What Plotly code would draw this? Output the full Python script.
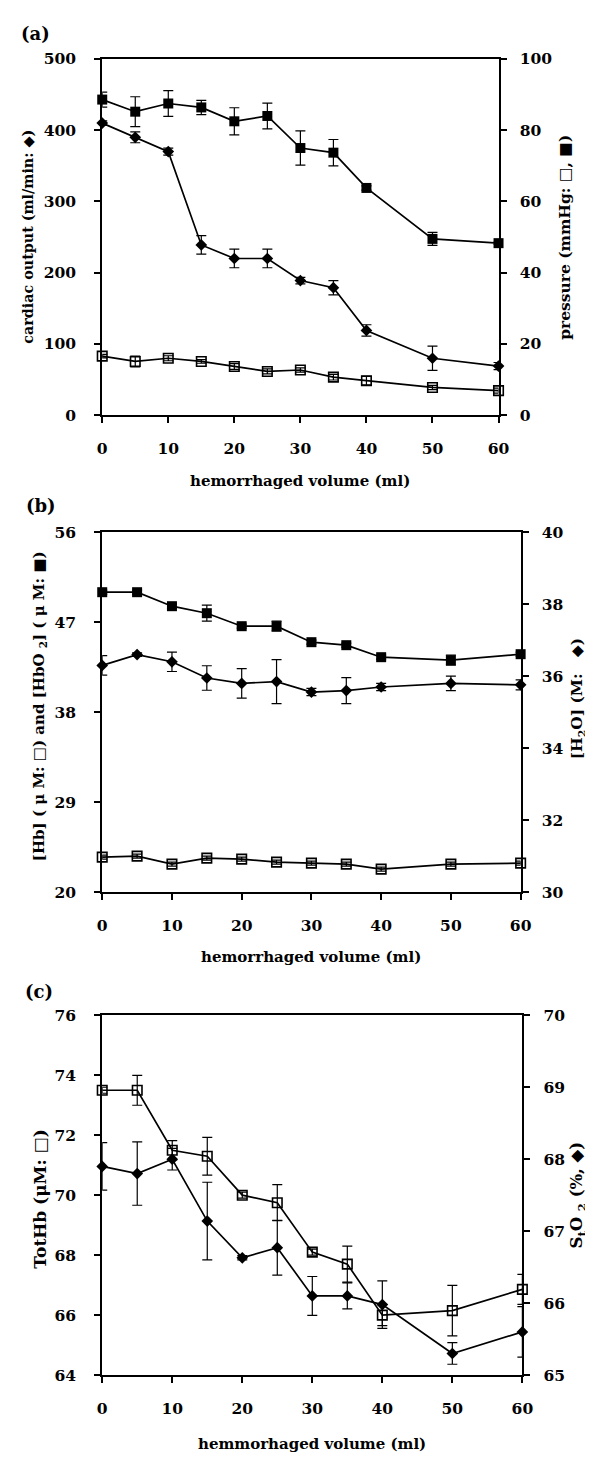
import plotly.graph_objects as go

# ---------------- data ----------------
volume = [0, 5, 10, 15, 20, 25, 30, 35, 40, 50, 60]
x_ticks = [0, 10, 20, 30, 40, 50, 60]

# panel (a)
cardiac_output = [410, 390, 370, 239, 220, 220, 189, 179, 119, 80, 69]
cardiac_output_err = [3, 7.6, 5, 13, 13, 13, 4.5, 10, 8, 17, 5]
pressure_filled = [88.6, 85.2, 87.5, 86.4, 82.5, 84.0, 75.0, 73.7, 63.8, 49.5, 48.3]
pressure_filled_err = [2.1, 4.2, 3.6, 2.0, 3.8, 3.6, 4.8, 3.7, 0.6, 1.8, 0.3]
pressure_open = [16.6, 15.1, 16.0, 15.1, 13.7, 12.3, 12.7, 10.7, 9.7, 7.8, 6.9]
pressure_open_err = [0.5, 1.5, 0.7, 0.5, 0.8, 0.7, 0.6, 0.8, 1.2, 0.6, 0.7]

# panel (b)
hbo2 = [50.0, 50.0, 48.6, 47.9, 46.6, 46.6, 45.0, 44.7, 43.5, 43.2, 43.8]
hbo2_err = [0.2, 0.2, 0.2, 0.8, 0.2, 0.5, 0.2, 0.2, 0.2, 0.5, 0.2]
hb = [23.5, 23.6, 22.8, 23.4, 23.3, 23.0, 22.9, 22.8, 22.3, 22.8, 22.9]
hb_err = [0.2, 0.2, 0.2, 0.2, 0.2, 0.2, 0.2, 0.2, 0.2, 0.2, 0.2]
h2o = [36.3, 36.6, 36.4, 35.95, 35.8, 35.85, 35.56, 35.6, 35.7, 35.8, 35.76]
h2o_err = [0.27, 0.05, 0.27, 0.34, 0.41, 0.61, 0.1, 0.36, 0.1, 0.2, 0.14]

# panel (c)
tothb = [73.5, 73.5, 71.5, 71.3, 70.0, 69.75, 68.1, 67.7, 66.0, 66.15, 66.86]
tothb_err = [0.1, 0.5, 0.32, 0.63, 0.1, 0.6, 0.1, 0.6, 0.35, 0.84, 0.5]
sto2 = [67.9, 67.8, 68.0, 67.14, 66.63, 66.77, 66.1, 66.1, 65.98, 65.3, 65.6]
sto2_err = [0.33, 0.44, 0.15, 0.54, 0.03, 0.38, 0.27, 0.18, 0.33, 0.15, 0.35]

# ---------------- layout helpers ----------------
W, H = 593, 1457


def fx(p):
    return p / W


def fy(p):
    return 1 - p / H


FONT = "DejaVu Serif"
BLACK = "black"
NB = "\u00a0"

panels = {
    "a": dict(x0=91.7, x1=499.0, top=41.5, bottom=402.5),
    "b": dict(x0=91.7, x1=521.7, top=521.0, bottom=885.7),
    "c": dict(x0=91.7, x1=523.5, top=1010.5, bottom=1375.0),
}

fig = go.Figure()


def err(arr):
    return dict(type="data", array=arr, color=BLACK, thickness=1.2, width=5, visible=True)


def add_series(x, y, e, xa, ya, kind):
    if kind == "diamond":
        marker = dict(symbol="diamond", size=9, color=BLACK)
    elif kind == "filled":
        marker = dict(symbol="square", size=10, color=BLACK)
    else:
        marker = dict(symbol="square-open", size=9.5, color=BLACK, line=dict(width=1.6, color=BLACK))
    fig.add_trace(go.Scatter(
        x=x, y=y, xaxis=xa, yaxis=ya, mode="lines+markers",
        line=dict(color=BLACK, width=1.7), marker=marker,
        error_y=err(e), cliponaxis=False, showlegend=False,
        hoverinfo="x+y"))


# panel a
add_series(volume, cardiac_output, cardiac_output_err, "x", "y", "diamond")
add_series(volume, pressure_filled, pressure_filled_err, "x", "y2", "filled")
add_series(volume, pressure_open, pressure_open_err, "x", "y2", "open")
# panel b
add_series(volume, hbo2, hbo2_err, "x2", "y3", "filled")
add_series(volume, hb, hb_err, "x2", "y3", "open")
add_series(volume, h2o, h2o_err, "x2", "y4", "diamond")
# panel c
add_series(volume, tothb, tothb_err, "x3", "y5", "open")
add_series(volume, sto2, sto2_err, "x3", "y6", "diamond")

tickfont = dict(family=FONT, size=15.5, color=BLACK, weight="bold")


def xaxis(p, anchor):
    return dict(domain=[fx(p["x0"]), fx(p["x1"])], anchor=anchor, range=[0, 60],
                tickvals=x_ticks, showline=True, linewidth=2, linecolor=BLACK,
                mirror=True, ticks="outside", ticklen=6, tickwidth=1.5, tickcolor=BLACK,
                showgrid=False, zeroline=False, tickfont=tickfont, ticklabelstandoff=12)


def yaxis(p, anchor, rng, dt, side="left", overlay=None):
    d = dict(anchor=anchor, range=rng, dtick=dt, tick0=rng[0], side=side,
             showline=True, linewidth=2, linecolor=BLACK, ticks="outside",
             ticklen=6, tickwidth=1.5, tickcolor=BLACK, showgrid=False,
             zeroline=False, tickfont=tickfont,
             ticklabelstandoff=15 if side == "left" else 10)
    if overlay:
        d["overlaying"] = overlay
    else:
        d["domain"] = [fy(p["bottom"]), fy(p["top"])]
    return d


pa, pb, pc = panels["a"], panels["b"], panels["c"]
fig.update_layout(
    width=W, height=H, margin=dict(l=0, r=0, t=0, b=0),
    paper_bgcolor="white", plot_bgcolor="white", showlegend=False,
    font=dict(family=FONT, size=15, color=BLACK, weight="bold"),
    xaxis=xaxis(pa, "y"),
    yaxis=yaxis(pa, "x", [0, 500], 100),
    yaxis2=yaxis(pa, "x", [0, 100], 20, side="right", overlay="y"),
    xaxis2=xaxis(pb, "y3"),
    yaxis3=yaxis(pb, "x2", [20, 56], 9),
    yaxis4=yaxis(pb, "x2", [30, 40], 2, side="right", overlay="y3"),
    xaxis3=xaxis(pc, "y5"),
    yaxis5=yaxis(pc, "x3", [64, 76], 2),
    yaxis6=yaxis(pc, "x3", [65, 70], 1, side="right", overlay="y5"),
)


def note(text, x, y, size, angle=0):
    fig.add_annotation(text=text, x=fx(x), y=fy(y), xref="paper", yref="paper",
                       showarrow=False, textangle=angle, xanchor="center", yanchor="middle",
                       font=dict(family=FONT, size=size, color=BLACK, weight="bold"))


# panel labels
note("(a)", 23, 16, 18)
note("(b)", 29, 494, 18)
note("(c)", 27, 986, 18)

# x titles
note("hemorrhaged volume (ml)", (pa["x0"] + pa["x1"]) / 2, 469, 15)
note("hemorrhaged volume (ml)", (pb["x0"] + pb["x1"]) / 2, 951, 15)
note("hemmorhaged volume (ml)", (pc["x0"] + pc["x1"]) / 2, 1445, 15)

# y titles
ca = (pa["top"] + pa["bottom"]) / 2
cb = (pb["top"] + pb["bottom"]) / 2
cc = (pc["top"] + pc["bottom"]) / 2
note("cardiac output (ml/min:" + NB + "◆)", 16, ca, 14.3, -90)
note("pressure (mmHg:" + NB + "□," + NB + "■)", 566, ca, 15.5, -90)
note("[Hb]" + NB + "(" + NB + "μ" + NB + "M:" + NB + "□)" + NB + "and" + NB +
     "[HbO" + NB + "<sub>2</sub>]" + NB + "(" + NB + "μ" + NB + "M:" + NB + "■)",
     28, 697, 15, -90)
note("[H<sub>2</sub>O]" + NB + "(M:" + NB * 3 + "◆)", 580, 690, 15.5, -90)
note("TotHb (μM:" + NB + "□)", 28, 1197, 17, -90)
note("S<sub>t</sub>O" + NB + "<sub>2</sub>" + NB + "(%," + NB + "◆)", 580, cc, 16.5, -90)

fig.write_html("out.html")
